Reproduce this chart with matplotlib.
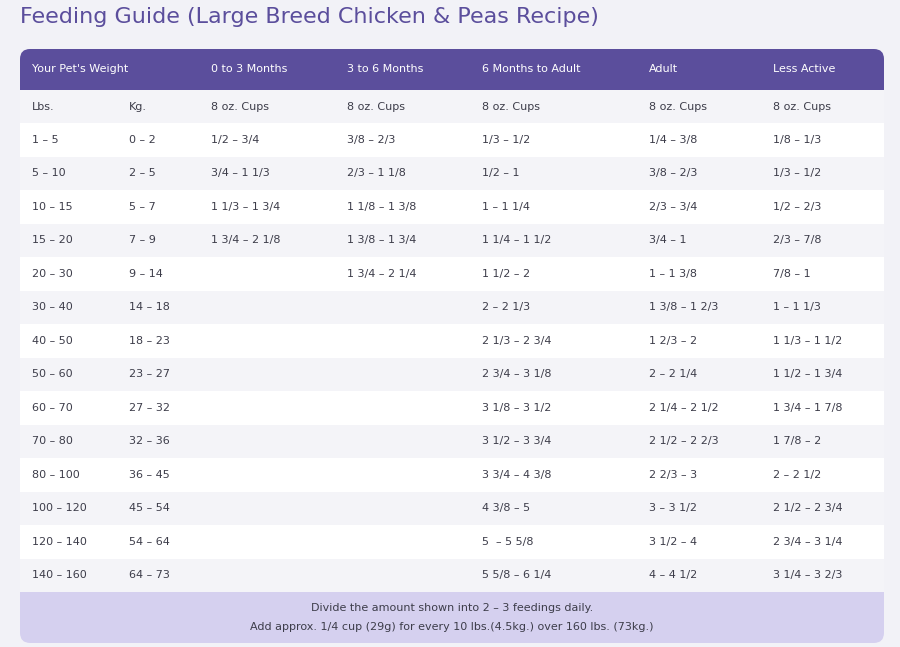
import matplotlib
matplotlib.use("Agg")
import matplotlib.pyplot as plt
from matplotlib.patches import FancyBboxPatch, Rectangle

title = "Feeding Guide (Large Breed Chicken & Peas Recipe)"
headers = ["Your Pet's Weight", "", "0 to 3 Months", "3 to 6 Months", "6 Months to Adult", "Adult", "Less Active"]
subheaders = ["Lbs.", "Kg.", "8 oz. Cups", "8 oz. Cups", "8 oz. Cups", "8 oz. Cups", "8 oz. Cups"]
lbs = ["1 – 5", "5 – 10", "10 – 15", "15 – 20", "20 – 30", "30 – 40", "40 – 50", "50 – 60", "60 – 70", "70 – 80", "80 – 100", "100 – 120", "120 – 140", "140 – 160"]
kg = ["0 – 2", "2 – 5", "5 – 7", "7 – 9", "9 – 14", "14 – 18", "18 – 23", "23 – 27", "27 – 32", "32 – 36", "36 – 45", "45 – 54", "54 – 64", "64 – 73"]
m0_3 = ["1/2 – 3/4", "3/4 – 1 1/3", "1 1/3 – 1 3/4", "1 3/4 – 2 1/8", "", "", "", "", "", "", "", "", "", ""]
m3_6 = ["3/8 – 2/3", "2/3 – 1 1/8", "1 1/8 – 1 3/8", "1 3/8 – 1 3/4", "1 3/4 – 2 1/4", "", "", "", "", "", "", "", "", ""]
m6_adult = ["1/3 – 1/2", "1/2 – 1", "1 – 1 1/4", "1 1/4 – 1 1/2", "1 1/2 – 2", "2 – 2 1/3", "2 1/3 – 2 3/4", "2 3/4 – 3 1/8", "3 1/8 – 3 1/2", "3 1/2 – 3 3/4", "3 3/4 – 4 3/8", "4 3/8 – 5", "5  – 5 5/8", "5 5/8 – 6 1/4"]
adult = ["1/4 – 3/8", "3/8 – 2/3", "2/3 – 3/4", "3/4 – 1", "1 – 1 3/8", "1 3/8 – 1 2/3", "1 2/3 – 2", "2 – 2 1/4", "2 1/4 – 2 1/2", "2 1/2 – 2 2/3", "2 2/3 – 3", "3 – 3 1/2", "3 1/2 – 4", "4 – 4 1/2"]
less_active = ["1/8 – 1/3", "1/3 – 1/2", "1/2 – 2/3", "2/3 – 7/8", "7/8 – 1", "1 – 1 1/3", "1 1/3 – 1 1/2", "1 1/2 – 1 3/4", "1 3/4 – 1 7/8", "1 7/8 – 2", "2 – 2 1/2", "2 1/2 – 2 3/4", "2 3/4 – 3 1/4", "3 1/4 – 3 2/3"]
footer = ["Divide the amount shown into 2 – 3 feedings daily.",
          "Add approx. 1/4 cup (29g) for every 10 lbs.(4.5kg.) over 160 lbs. (73kg.)"]

columns = [lbs, kg, m0_3, m3_6, m6_adult, adult, less_active]
col_x = [32, 129, 211, 347, 482, 649, 773]

W, H = 900, 647
fig = plt.figure(figsize=(9, 6.47), dpi=100)
fig.patch.set_facecolor("#f2f2f7")
ax = fig.add_axes([0, 0, 1, 1])
ax.set_xlim(0, W); ax.set_ylim(H, 0); ax.axis("off")

ax.text(20, 17, title, fontsize=16, color="#5b4e9c", va="center", ha="left", family="DejaVu Sans")

L, R, T, B = 20, 884, 49, 643
clip = FancyBboxPatch((L, T), R - L, B - T, boxstyle="round,pad=0,rounding_size=10",
                      facecolor="white", edgecolor="none")
ax.add_patch(clip)

def band(y0, y1, color):
    r = Rectangle((L, y0), R - L, y1 - y0, facecolor=color, edgecolor="none")
    ax.add_patch(r); r.set_clip_path(clip)

txt = "#3d3d4a"
fs = 8
band(T, 90, "#5b4e9c")
for x, h in zip(col_x, headers):
    ax.text(x, 69.5, h, color="white", fontsize=fs, va="center")
band(90, 123, "#f4f4f8")
for x, h in zip(col_x, subheaders):
    ax.text(x, 106.5, h, color=txt, fontsize=fs, va="center")
rh = (592 - 123) / len(lbs)
for i in range(len(lbs)):
    y0 = 123 + i * rh
    band(y0, y0 + rh, "white" if i % 2 == 0 else "#f4f4f8")
    for x, col in zip(col_x, columns):
        ax.text(x, y0 + rh / 2, col[i], color=txt, fontsize=fs, va="center")
band(592, B, "#d5d0ef")
ax.text((L + R) / 2, 608, footer[0], color=txt, fontsize=fs, ha="center", va="center")
ax.text((L + R) / 2, 627, footer[1], color=txt, fontsize=fs, ha="center", va="center")

fig.savefig("out.png", dpi=100, facecolor=fig.get_facecolor())
